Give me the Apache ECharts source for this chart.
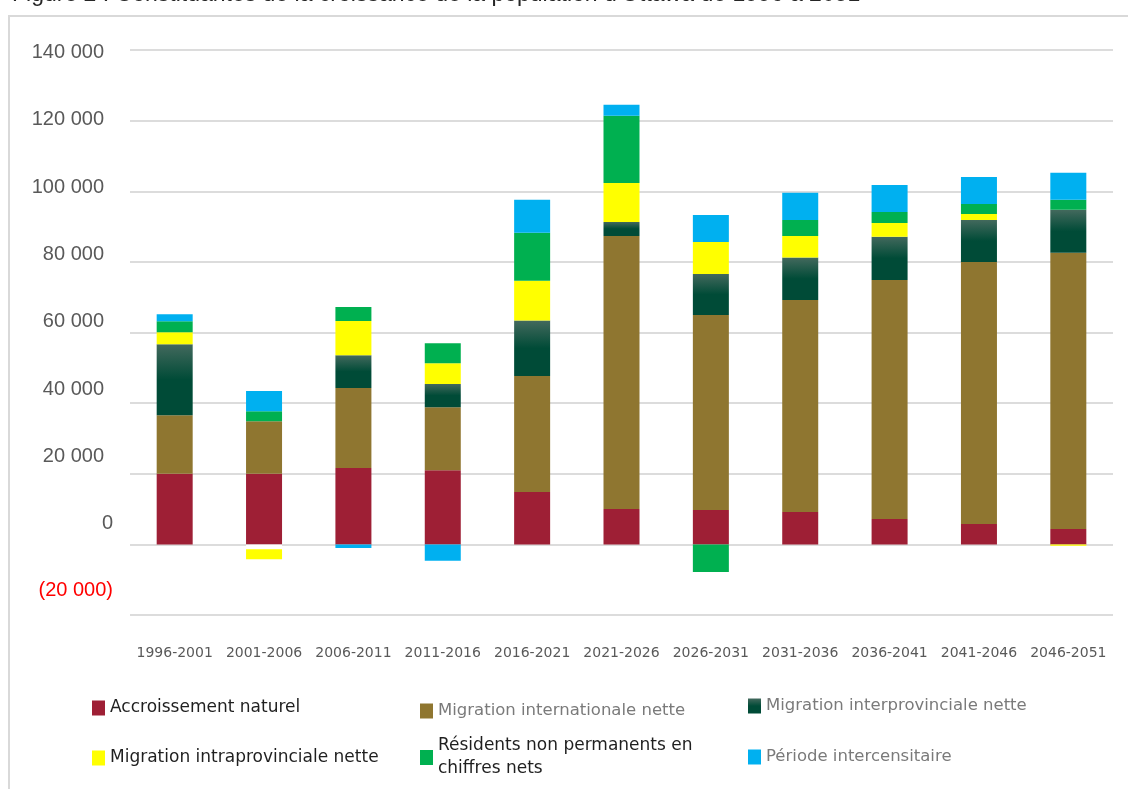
<!DOCTYPE html>
<html lang="fr">
<head>
<meta charset="utf-8">
<title>Constituantes de la croissance de la population d'Ottawa</title>
<script src="https://cdn.jsdelivr.net/npm/echarts@6/dist/echarts.min.js"></script>
<style>
  html, body { margin: 0; padding: 0; background: #ffffff; }
  #chart { width: 1128px; height: 789px; }
</style>
</head>
<body>
<div id="chart"></div>
<script>
// Périodes quinquennales
const periodes = ['1996-2001', '2001-2006', '2006-2011', '2011-2016', '2016-2021', '2021-2026',
                  '2026-2031', '2031-2036', '2036-2041', '2041-2046', '2046-2051'];

// Composantes de la croissance (personnes)
const accroissementNaturel = [20000, 20000, 21600, 21000, 14800, 10000, 9700, 9150, 7170, 5750, 4350];
const migrationInternationale = [16600, 14900, 22700, 17850, 32900, 77350, 55250, 60060, 67710, 74230, 78200];
const migrationInterprovinciale = [20100, -1400, 9250, 6600, 15700, 3970, 11600, 12000, 12270, 11900, 12180];
const migrationIntraprovinciale = [3400, -2800, 9700, 5850, 11250, 11050, 9070, 6150, 3880, 1700, -400];
const residentsNonPermanents = [3100, 2800, 4000, 5670, 13600, 19000, -7850, 4530, 3120, 2830, 2830];
const periodeIntercensitaire = [2000, 5700, -1000, -4650, 9350, 3100, 7650, 7650, 7650, 7650, 7650];

// Graduations de l'axe vertical
const graduations = [-20000, 0, 20000, 40000, 60000, 80000, 100000, 120000, 140000];

const titre = "Figure 2 : Constituantes de la croissance de la population d'Ottawa de 1996 à 2051";

const noms = [
  'Accroissement naturel',
  'Migration internationale nette',
  'Migration interprovinciale nette',
  'Migration intraprovinciale nette',
  'Résidents non permanents en\nchiffres nets',
  'Période intercensitaire'
];

const couleurs = {
  naturel: '#9e1f35',
  international: '#8f7630',
  intra: '#ffff00',
  rnp: '#00b050',
  intercensitaire: '#00b0f0'
};

const degradeInterprov = new echarts.graphic.LinearGradient(0, 0, 0, 1, [
  { offset: 0, color: '#43695d' },
  { offset: 0.5, color: '#004b37' },
  { offset: 1, color: '#004b37' }
]);

function grouper(v) {
  return String(Math.abs(v)).replace(/\B(?=(\d{3})+(?!\d))/g, ' ');
}

// Valeurs négatives de la migration interprovinciale : remplissage inversé (blanc)
const interprovData = migrationInterprovinciale.map(v =>
  v < 0 ? { value: v, itemStyle: { color: '#ffffff' } } : v
);

const chart = echarts.init(document.getElementById('chart'), null, { renderer: 'canvas' });

function serie(nom, donnees, couleur) {
  return {
    name: nom,
    type: 'bar',
    stack: 'total',
    barWidth: 36,
    xAxisIndex: 0,
    yAxisIndex: 0,
    data: donnees,
    itemStyle: { color: couleur },
    emphasis: { disabled: true }
  };
}

function legende(nom, left, top, couleurTexte, taille, lineHeight) {
  return {
    data: [nom],
    left: left,
    top: top,
    padding: 0,
    orient: 'horizontal',
    itemWidth: 13,
    itemHeight: 15,
    icon: 'rect',
    selectedMode: false,
    textStyle: {
      fontFamily: 'DejaVu Sans',
      fontSize: taille,
      color: couleurTexte,
      lineHeight: lineHeight || 20
    }
  };
}

const option = {
  animation: false,
  backgroundColor: '#ffffff',
  graphic: [
    {
      type: 'rect',
      shape: { x: 9, y: 16, width: 1140, height: 800 },
      style: { fill: 'none', stroke: '#d9d9d9', lineWidth: 2 },
      silent: true
    },
    {
      type: 'text',
      x: 12,
      y: 6,
      style: {
        text: titre,
        fill: '#262626',
        font: '23px "Liberation Sans"',
        verticalAlign: 'bottom'
      },
      silent: true
    }
  ],
  legend: [
    legende(noms[0], 92, 698, '#1f1f1f', 17),
    legende(noms[1], 420, 701, '#7a7a7a', 16.5),
    legende(noms[2], 748, 696, '#7a7a7a', 16.5),
    legende(noms[3], 92, 748, '#1f1f1f', 17),
    legende(noms[4], 420, 734.5, '#1f1f1f', 17, 23),
    legende(noms[5], 748, 747, '#7a7a7a', 16.5)
  ],
  grid: [
    {
      // zone des barres
      left: 130,
      right: 15,
      top: 50,
      bottom: 174,
      containLabel: false,
      outerBoundsMode: 'none'
    },
    {
      // zone des étiquettes de l'axe vertical
      left: 130,
      right: 15,
      top: 52.7,
      bottom: 198.2,
      containLabel: false,
      outerBoundsMode: 'none'
    }
  ],
  xAxis: [
    {
      type: 'category',
      gridIndex: 0,
      data: periodes,
      axisLine: { show: false },
      axisTick: { show: false },
      axisLabel: {
        interval: 0,
        margin: 31,
        color: '#595959',
        fontFamily: 'DejaVu Sans',
        fontSize: 14
      }
    },
    {
      type: 'category',
      gridIndex: 1,
      data: periodes,
      show: false
    }
  ],
  yAxis: [
    {
      // échelle des barres et quadrillage
      type: 'value',
      gridIndex: 0,
      min: graduations[0],
      max: graduations[graduations.length - 1],
      interval: 20000,
      axisLine: { show: false },
      axisTick: { show: false },
      axisLabel: { show: false },
      splitLine: { lineStyle: { color: '#dcdcdc', width: 2 } }
    },
    {
      // étiquettes de l'axe vertical
      type: 'value',
      gridIndex: 1,
      min: graduations[0],
      max: graduations[graduations.length - 1],
      interval: 20000,
      axisLine: { show: false },
      axisTick: { show: false },
      splitLine: { show: false },
      axisLabel: {
        margin: 17,
        fontFamily: 'Liberation Sans',
        fontSize: 20,
        color: '#595959',
        formatter: function (v) {
          const r = Math.round(v);
          if (r > 0) return '{p|' + grouper(r) + '}';
          if (r < 0) return '{n|(' + grouper(r) + ')}';
          return '{z|0}';
        },
        rich: {
          p: { fontFamily: 'Liberation Sans', fontSize: 20, color: '#595959', padding: [0, 9, 0, 0] },
          z: { fontFamily: 'Liberation Sans', fontSize: 20, color: '#595959' },
          n: { fontFamily: 'Liberation Sans', fontSize: 20, color: '#ff0000' }
        }
      }
    }
  ],
  series: [
    serie(noms[0], accroissementNaturel, couleurs.naturel),
    serie(noms[1], migrationInternationale, couleurs.international),
    serie(noms[2], interprovData, degradeInterprov),
    serie(noms[3], migrationIntraprovinciale, couleurs.intra),
    serie(noms[4], residentsNonPermanents, couleurs.rnp),
    serie(noms[5], periodeIntercensitaire, couleurs.intercensitaire)
  ]
};

chart.setOption(option);
</script>
</body>
</html>
